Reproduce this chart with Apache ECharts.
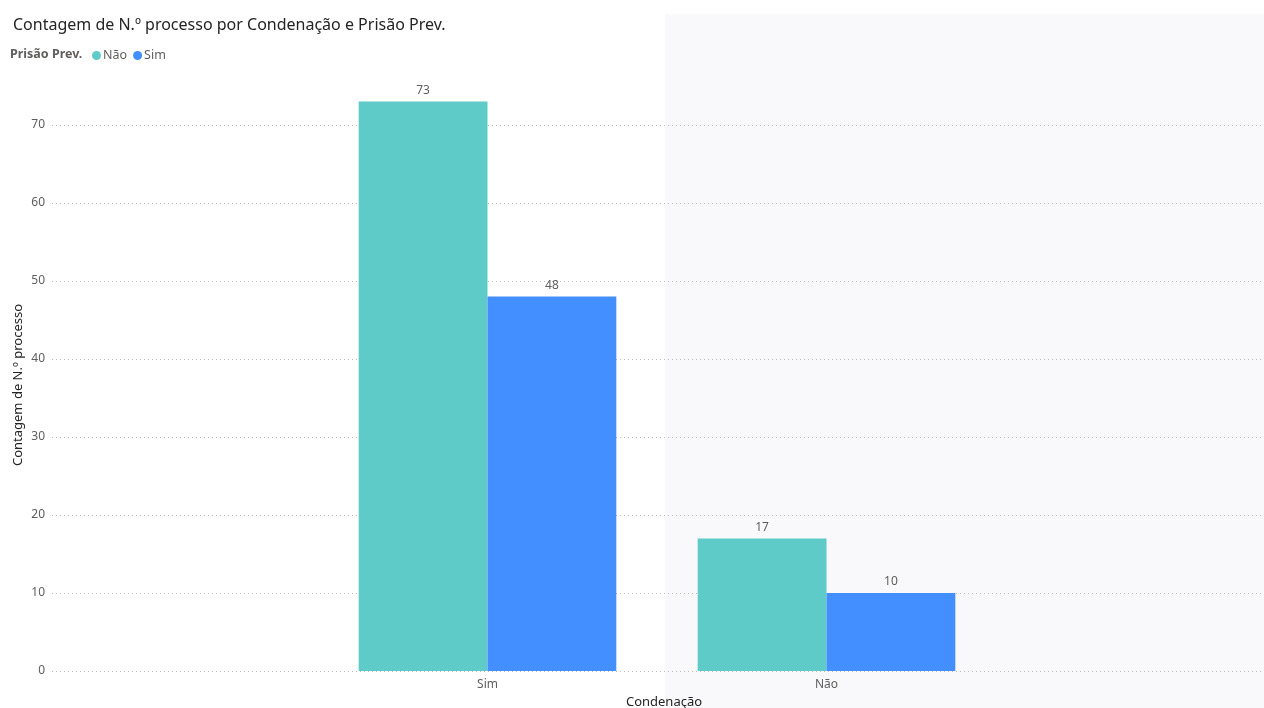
<!DOCTYPE html>
<html>
<head>
<meta charset="utf-8">
<script src="https://cdn.jsdelivr.net/npm/echarts@6/dist/echarts.min.js"></script>
<style>
  html, body { margin: 0; padding: 0; background: #ffffff; }
  #chart { width: 1264px; height: 708px; }
</style>
</head>
<body>
<div id="chart"></div>
<script>
// Condenação categories and counts of N.º processo split by Prisão Prev.
const categories = ['Sim', 'Não'];
const seriesNames = ['Não', 'Sim'];
const valuesNao = [73, 17];
const valuesSim = [48, 10];
const yTicks = [0, 10, 20, 30, 40, 50, 60, 70];

const FONT = "'Segoe UI', 'Noto Sans', 'Open Sans', sans-serif";
const colors = ['#5ECBC8', '#438FFF'];
const yMin = yTicks[0];
const yMax = yTicks[yTicks.length - 1];
const gridTop = 125;
const gridBottom = 708 - 671;

const chart = echarts.init(document.getElementById('chart'), null, { renderer: 'canvas' });

chart.setOption({
  backgroundColor: '#ffffff',
  animation: false,
  color: colors,
  title: {
    text: 'Contagem de N.º processo por Condenação e Prisão Prev.',
    left: 8,
    top: 12,
    textStyle: { fontFamily: FONT, fontSize: 16, fontWeight: 'normal', color: '#252423' }
  },
  legend: {
    data: seriesNames,
    left: 87,
    top: 44,
    icon: 'circle',
    itemWidth: 9,
    itemHeight: 9,
    itemGap: 6,
    textStyle: { fontFamily: FONT, fontSize: 12.5, color: '#605E5C', padding: [0, 0, 0, -3] }
  },
  graphic: [
    {
      type: 'rect',
      z: -10,
      shape: { x: 665, y: 14, width: 599, height: 694 },
      style: { fill: '#F9F9FB' }
    },
    {
      type: 'text',
      left: 10,
      top: 48,
      style: { text: 'Prisão Prev.', font: "bold 12.5px " + FONT, fill: '#605E5C' }
    },
    {
      // value axis title
      type: 'text',
      x: 18,
      y: 385,
      rotation: Math.PI / 2,
      style: {
        text: 'Contagem de N.º processo',
        font: "13px " + FONT,
        fill: '#252423',
        align: 'center',
        verticalAlign: 'middle'
      }
    },
    {
      // category axis title
      type: 'text',
      x: 664,
      y: 702,
      style: {
        text: 'Condenação',
        font: "13px " + FONT,
        fill: '#252423',
        align: 'center',
        verticalAlign: 'middle'
      }
    }
  ],
  grid: [
    // full-width plot area carrying the value axis and gridlines
    { left: 52, right: 0, top: gridTop, bottom: gridBottom, outerBoundsMode: 'none' },
    // plot area holding the clustered bars
    { left: 318, width: 678, top: gridTop, bottom: gridBottom, outerBoundsMode: 'none' }
  ],
  xAxis: [
    {
      gridIndex: 0,
      type: 'category',
      data: [''],
      axisLine: { show: false },
      axisTick: { show: false },
      axisLabel: { show: false }
    },
    {
      gridIndex: 1,
      type: 'category',
      data: categories,
      axisLine: { show: false },
      axisTick: { show: false },
      axisLabel: { fontFamily: FONT, fontSize: 12, color: '#605E5C', margin: 8 }
    }
  ],
  yAxis: [
    {
      gridIndex: 0,
      type: 'value',
      min: yMin,
      max: yMax,
      interval: 10,
      axisLine: { show: false },
      axisTick: { show: false },
      axisLabel: { fontFamily: FONT, fontSize: 12, color: '#605E5C', margin: 7 },
      splitLine: { lineStyle: { type: [1, 3], color: '#BDBBB9', width: 1 } }
    },
    {
      gridIndex: 1,
      type: 'value',
      min: yMin,
      max: yMax,
      interval: 10,
      show: false,
      splitLine: { show: false }
    }
  ],
  series: [
    {
      name: seriesNames[0],
      type: 'bar',
      xAxisIndex: 1,
      yAxisIndex: 1,
      data: valuesNao,
      barWidth: '38%',
      barGap: '0%',
      clip: false,
      label: { show: true, position: 'top', distance: 5, fontFamily: FONT, fontSize: 12, color: '#605E5C' }
    },
    {
      name: seriesNames[1],
      type: 'bar',
      xAxisIndex: 1,
      yAxisIndex: 1,
      data: valuesSim,
      barWidth: '38%',
      barGap: '0%',
      clip: false,
      label: { show: true, position: 'top', distance: 5, fontFamily: FONT, fontSize: 12, color: '#605E5C' }
    }
  ]
});
</script>
</body>
</html>
